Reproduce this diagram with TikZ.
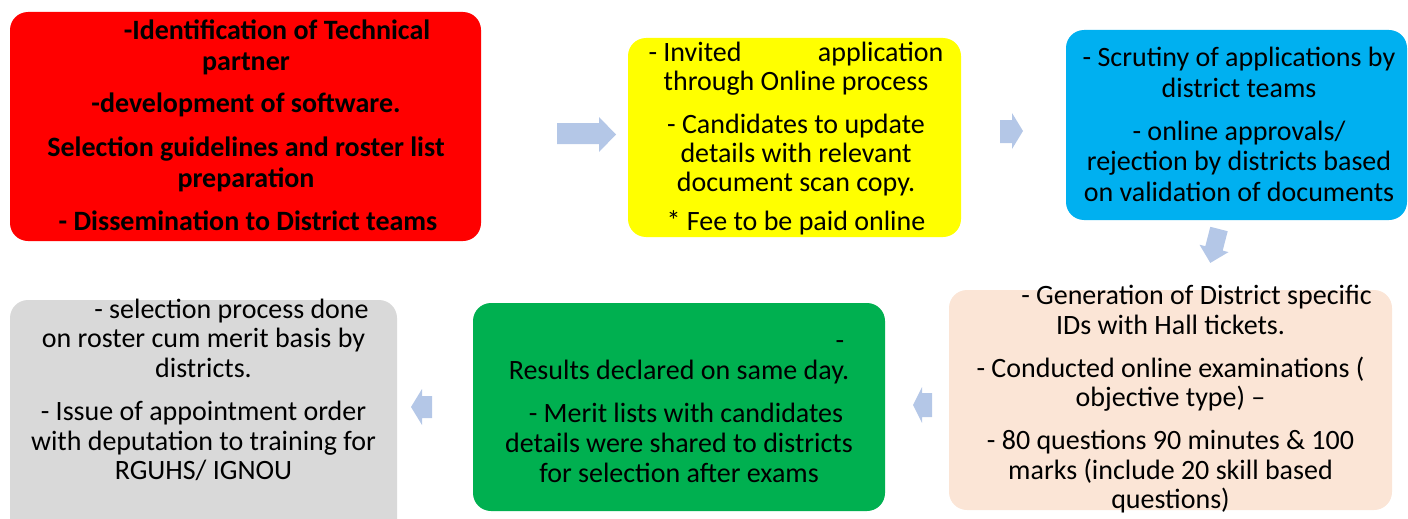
\documentclass[tikz,border=0pt]{standalone}
\usepackage{fontspec}
\setmainfont{Carlito}
\definecolor{redc}{HTML}{FF0000}
\definecolor{yelc}{HTML}{FFFF00}
\definecolor{bluc}{HTML}{00B0F0}
\definecolor{peac}{HTML}{FBE5D6}
\definecolor{grnc}{HTML}{00B050}
\definecolor{gryc}{HTML}{D9D9D9}
\definecolor{arrc}{HTML}{B4C7E7}
\tikzset{
  box/.style={draw=none, rounded corners=18pt, inner sep=0pt},
  txt/.style={inner sep=0pt, align=center, anchor=north, text=black},
  blockarrow/.style={fill=arrc, draw=none},
}
\begin{document}
\begin{tikzpicture}[x=1pt,y=-1pt]
\useasboundingbox (0,0) rectangle (1408,519);
% boxes
\node[box, fill=redc, minimum width=471pt, minimum height=229pt] (red) at (245.5,126.5) {};
\node[box, fill=yelc, minimum width=333pt, minimum height=199pt] (yel) at (794.5,137.5) {};
\node[box, fill=bluc, minimum width=341pt, minimum height=190pt] (blu) at (1236.5,125) {};
\node[box, fill=peac, minimum width=443pt, minimum height=220pt] (pea) at (1170.5,400) {};
\node[box, fill=grnc, minimum width=412pt, minimum height=208pt] (grn) at (679,407) {};
\node[box, fill=gryc, minimum width=387pt, minimum height=240pt] (gry) at (203.5,420) {};
% texts
\node[txt, font=\fontsize{28}{31}\selectfont\bfseries] (redtext) at (246,18) {%
\strut\hspace{62pt}-Identification of Technical\\
partner\\[11pt]
-development of software.\\[13pt]
Selection guidelines and roster list\\
preparation\\[12pt]
\hspace{4pt}- Dissemination to District teams};
\node[txt, font=\fontsize{28}{29}\selectfont] (yeltext) at (796,40.5) {%
\strut\hbox to 295pt{- Invited\hfill application}\\
through Online process\\[14pt]
- Candidates to update\\
details with relevant\\
document scan copy.\\[10pt]
* Fee to be paid online};
\node[txt, font=\fontsize{28}{30.5}\selectfont] (blutext) at (1239,45) {%
\strut- Scrutiny of applications by\\
district teams\\[12.5pt]
- online approvals/\\
rejection by districts based\\
on validation of documents};
\node[txt, font=\fontsize{28}{29.5}\selectfont] (peatext) at (1170.5,284) {%
\strut\hspace{52pt}- Generation of District specific\\
IDs with Hall tickets.\\[13.5pt]
- Conducted online examinations (\\
objective type) --\\[13.5pt]
- 80 questions 90 minutes \& 100\\
marks (include 20 skill based\\
questions)};
\node[txt, font=\fontsize{28}{30}\selectfont] (grntext) at (679,328.5) {%
\strut\hspace{322pt}-\\
Results declared on same day.\\[13pt]
\hspace{14pt}- Merit lists with candidates\\
details were shared to districts\\
for selection after exams};
\node[txt, font=\fontsize{28}{29.5}\selectfont] (grytext) at (203.5,297.5) {%
\strut\hspace{56pt}- selection process done\\
on roster cum merit basis by\\
districts.\\[14pt]
- Issue of appointment order\\
with deputation to training for\\
RGUHS/ IGNOU};
% block arrows
\fill[blockarrow] (557,123) -- (599,123) -- (599,117) -- (616,134.5) -- (599,152) -- (599,144) -- (557,144) -- cycle;
\fill[blockarrow] (1000,120) -- (1012,120) -- (1012,113) -- (1023,131) -- (1012,149) -- (1012,143) -- (1000,143) -- cycle;
\fill[blockarrow] (1210.3,226.8) -- (1227.7,231.2) -- (1222.7,250.6) -- (1228.5,252.1) -- (1210.3,262.9) -- (1199.5,244.7) -- (1205.3,246.2) -- cycle;
\fill[blockarrow] (932,393) -- (922,393) -- (922,387) -- (913,405) -- (922,423) -- (922,417) -- (932,417) -- cycle;
\fill[blockarrow] (432,396) -- (422,396) -- (422,389) -- (411,407) -- (422,425) -- (422,418) -- (432,418) -- cycle;
\end{tikzpicture}
\end{document}
